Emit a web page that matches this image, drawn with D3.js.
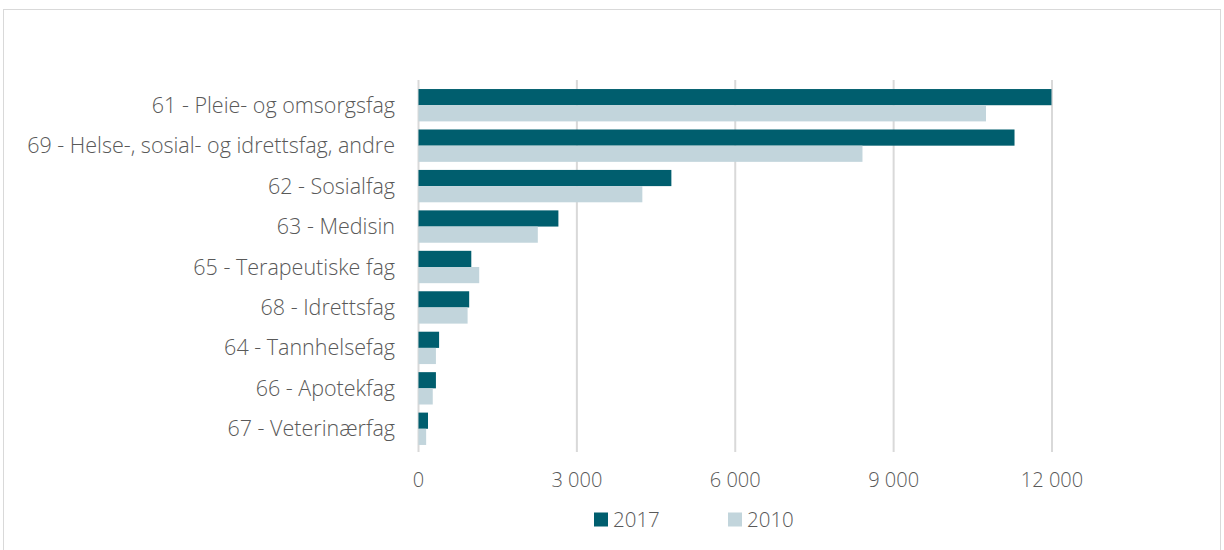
<!DOCTYPE html>
<html>
<head>
<meta charset="utf-8">
<script src="https://cdn.jsdelivr.net/npm/d3@7"></script>
<style>
  body { margin: 0; background: #fff; }
  svg { display: block; font-family: "Open Sans", sans-serif; font-weight: 300; }
</style>
</head>
<body>
<div id="chart"></div>
<script>
var categories = [
  "61 - Pleie- og omsorgsfag",
  "69 - Helse-, sosial- og idrettsfag, andre",
  "62 - Sosialfag",
  "63 - Medisin",
  "65 - Terapeutiske fag",
  "68 - Idrettsfag",
  "64 - Tannhelsefag",
  "66 - Apotekfag",
  "67 - Veterinærfag"
];
var values2017 = [11990, 11290, 4790, 2650, 1000, 960, 390, 330, 180];
var values2010 = [10750, 8410, 4240, 2260, 1150, 930, 330, 270, 145];
var seriesNames = ["2017", "2010"];
var xTicks = [0, 3000, 6000, 9000, 12000];

var WIDTH = 1224, HEIGHT = 550;
var colors = { "2017": "#005e6e", "2010": "#c2d5dc" };
var textColor = "#595959";

var svg = d3.select('#chart').append('svg')
  .attr('width', WIDTH)
  .attr('height', HEIGHT);

// outer frame
svg.append('rect')
  .attr('x', 3.5).attr('y', 9.5)
  .attr('width', 1217).attr('height', 560)
  .attr('fill', '#fff')
  .attr('stroke', '#d9d9d9');

var margin = { left: 418.5, right: 1052, top: 85, bottom: 449 };

var x = d3.scaleLinear().domain([0, 12000]).range([margin.left, margin.right]);
var y = d3.scaleBand().domain(categories).range([margin.top, margin.bottom]).paddingInner(0.2).paddingOuter(0.1);
var ySub = d3.scaleBand().domain(seriesNames).range([0, y.bandwidth()]);

// gridlines
svg.append('g').selectAll('line').data(xTicks).enter().append('line')
  .attr('x1', function(d) { return x(d); })
  .attr('x2', function(d) { return x(d); })
  .attr('y1', margin.top - 5)
  .attr('y2', margin.bottom + 3)
  .attr('stroke', '#d9d9d9')
  .attr('stroke-width', 2);

var rows = categories.map(function(c, i) {
  return { cat: c, vals: [{ s: "2017", v: values2017[i] }, { s: "2010", v: values2010[i] }] };
});

var g = svg.append('g').selectAll('g').data(rows).enter().append('g')
  .attr('transform', function(d) { return 'translate(0,' + y(d.cat) + ')'; });

g.selectAll('rect').data(function(d) { return d.vals; }).enter().append('rect')
  .attr('x', x(0))
  .attr('y', function(d) { return ySub(d.s); })
  .attr('width', function(d) { return x(d.v) - x(0); })
  .attr('height', ySub.bandwidth())
  .attr('fill', function(d) { return colors[d.s]; });

// category labels
svg.append('g').selectAll('text').data(categories).enter().append('text')
  .attr('x', 395)
  .attr('y', function(d) { return y(d) + y.bandwidth() / 2; })
  .attr('dy', '0.35em')
  .attr('text-anchor', 'end')
  .attr('fill', textColor)
  .style('font-size', '21.5px')
  .text(function(d) { return d; });

// x tick labels
var fmt = function(d) { return d3.format(',')(d).replace(/,/g, ' '); };
svg.append('g').selectAll('text').data(xTicks).enter().append('text')
  .attr('x', function(d) { return x(d); })
  .attr('y', 480)
  .attr('dy', '0.35em')
  .attr('text-anchor', 'middle')
  .attr('fill', textColor)
  .style('font-size', '20px')
  .text(fmt);

// legend
var legendX = [594, 728];
var legend = svg.append('g').selectAll('g').data(seriesNames).enter().append('g')
  .attr('transform', function(d, i) { return 'translate(' + legendX[i] + ',512.5)'; });
legend.append('rect')
  .attr('width', 14).attr('height', 14)
  .attr('fill', function(d) { return colors[d]; });
legend.append('text')
  .attr('x', 19).attr('y', 7)
  .attr('dy', '0.35em')
  .attr('fill', textColor)
  .style('font-size', '20.5px')
  .text(function(d) { return d; });
</script>
</body>
</html>
